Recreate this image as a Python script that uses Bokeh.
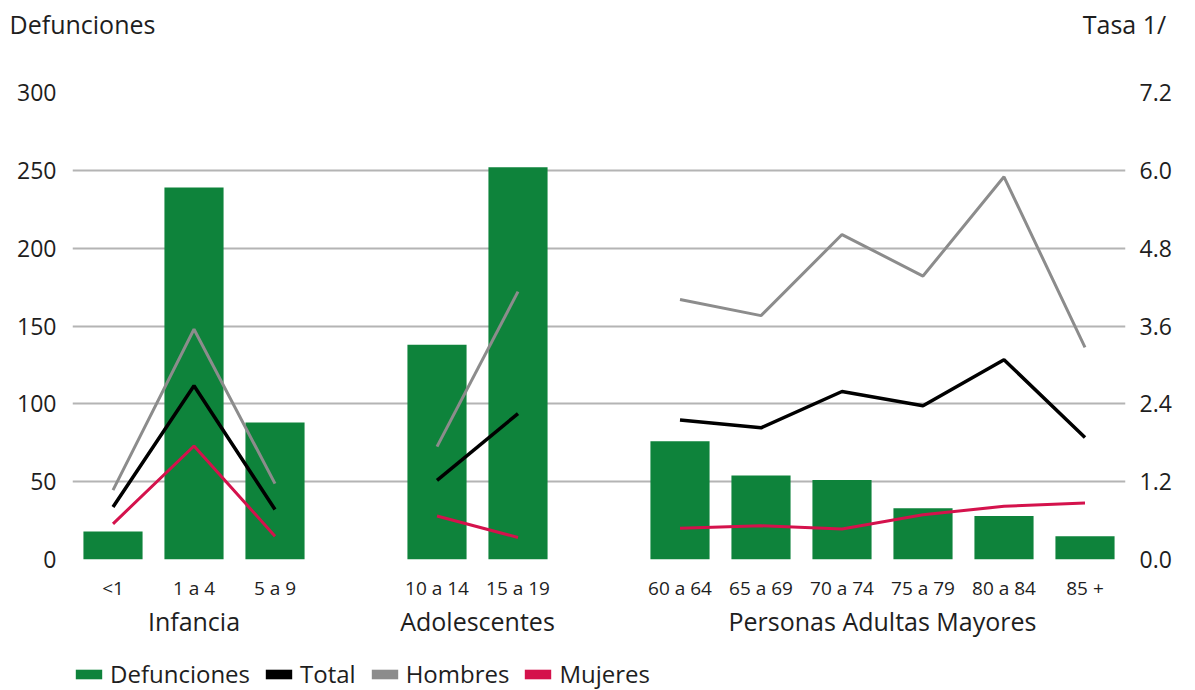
from bokeh.plotting import figure
from bokeh.layouts import column
from bokeh.models import (ColumnDataSource, Range1d, LinearAxis, FixedTicker,
                          CustomJSTickFormatter, Legend, LegendItem,
                          NumeralTickFormatter)
from bokeh.embed import file_html
from bokeh.resources import INLINE

# ---------------- data ----------------
categories = ["<1", "1 a 4", "5 a 9", "10 a 14", "15 a 19",
              "60 a 64", "65 a 69", "70 a 74", "75 a 79", "80 a 84", "85 +"]
groups = ["Infancia", "Adolescentes", "Personas Adultas Mayores"]
group_sizes = [3, 2, 6]
defunciones = [18, 239, 88, 138, 252, 76, 54, 51, 33, 28, 15]
total = [0.81, 2.68, 0.77, 1.22, 2.25, 2.15, 2.03, 2.59, 2.37, 3.08, 1.88]
hombres = [1.07, 3.55, 1.17, 1.74, 4.13, 4.01, 3.76, 5.01, 4.37, 5.90, 3.27]
mujeres = [0.55, 1.75, 0.36, 0.67, 0.34, 0.48, 0.52, 0.47, 0.69, 0.82, 0.87]
left_ticks = [0, 50, 100, 150, 200, 250, 300]
right_ticks = [0.0, 1.2, 2.4, 3.6, 4.8, 6.0, 7.2]
axis_titles = ["Defunciones", "Tasa 1/"]
series_names = ["Defunciones", "Total", "Hombres", "Mujeres"]

GREEN = "#0e833b"
GRAY = "#8c8c8c"
RED = "#d4124c"
BLACK = "#000000"
series_colors = [GREEN, BLACK, GRAY, RED]
FONT = "Open Sans"
TXT = "#1e1e1e"

W = 1195
H_MAIN, H_FOOT = 640, 50
FRAME_L, FRAME_R, FRAME_T, FRAME_H = 72, 70, 92, 471

positions = []
group_centers = []
slot = 0
for gi, n in enumerate(group_sizes):
    start = slot
    for k in range(n):
        positions.append(slot)
        slot += 1
    group_centers.append((start + slot - 1) / 2)
    slot += 1
n_slots = slot - 1
x0, x1 = -0.5, n_slots - 0.5
px_per_unit = (W - FRAME_L - FRAME_R) / (x1 - x0)
# header titles: pixel centres converted to x positions of a top axis
title_px = [82, 1124]
title_ticks = [x0 + (c - FRAME_L) / px_per_unit for c in title_px]

# ---------------- main chart ----------------
p = figure(width=W, height=H_MAIN, output_backend="svg", toolbar_location=None,
           x_range=Range1d(x0, x1), y_range=Range1d(0, 300),
           min_border_left=FRAME_L, min_border_right=FRAME_R,
           min_border_top=FRAME_T,
           min_border_bottom=H_MAIN - FRAME_T - FRAME_H)
p.title.visible = False
p.outline_line_color = None
p.extra_y_ranges = {"rate": Range1d(0, 7.2)}

src = ColumnDataSource(dict(x=positions, top=defunciones))
p.vbar(x="x", top="top", width=0.73, source=src, fill_color=GREEN, line_color=None)


def group_lines(values, color, width):
    idx = 0
    for n in group_sizes:
        xs = positions[idx:idx + n]
        ys = values[idx:idx + n]
        p.line(xs, ys, line_color=color, line_width=width, y_range_name="rate")
        idx += n

group_lines(hombres, GRAY, 3)
group_lines(total, BLACK, 3.5)
group_lines(mujeres, RED, 3)

p.xgrid.visible = False
p.ygrid.grid_line_color = "#b4b4b4"
p.ygrid.grid_line_width = 2
p.yaxis.ticker = FixedTicker(ticks=left_ticks)


def style_axis(ax, size, standoff):
    ax.axis_line_color = None
    ax.major_tick_line_color = None
    ax.minor_tick_line_color = None
    ax.major_tick_out = 0
    ax.major_tick_in = 0
    ax.minor_tick_out = 0
    ax.minor_tick_in = 0
    ax.major_label_text_font = FONT
    ax.major_label_text_font_size = size
    ax.major_label_text_color = TXT
    ax.major_label_standoff = standoff


def label_formatter(pos, labels):
    return CustomJSTickFormatter(args=dict(pos=pos, labels=labels),
        code="let b = -1, d = 1e9; for (let i = 0; i < pos.length; i++) {"
             " const e = Math.abs(pos[i] - tick); if (e < d) { d = e; b = i; } }"
             " return (b >= 0 && d < 1e-6) ? labels[b] : '';")

style_axis(p.yaxis[0], "23px", 16)

right = LinearAxis(y_range_name="rate", ticker=FixedTicker(ticks=right_ticks),
                   formatter=NumeralTickFormatter(format="0.0"))
style_axis(right, "23px", 14)
p.add_layout(right, "right")

xa = p.xaxis[0]
xa.ticker = FixedTicker(ticks=positions)
xa.formatter = label_formatter(positions, categories)
style_axis(xa, "19px", 15)

ga = LinearAxis(ticker=FixedTicker(ticks=group_centers),
                formatter=label_formatter(group_centers, groups))
style_axis(ga, "25px", 0)
p.add_layout(ga, "below")

ta = LinearAxis(ticker=FixedTicker(ticks=title_ticks),
                formatter=label_formatter(title_ticks, axis_titles))
style_axis(ta, "25px", 52)
p.add_layout(ta, "above")

# ---------------- footer legend ----------------
foot = figure(width=W, height=H_FOOT, output_backend="svg", toolbar_location=None,
              x_axis_type=None, y_axis_type=None,
              x_range=Range1d(0, 1), y_range=Range1d(0, 1), min_border=0)
foot.title.visible = False
foot.outline_line_color = None
items = []
for name, col in zip(series_names, series_colors):
    r = foot.vbar(x=[0], top=[0], width=0.0, fill_color=col, line_color=None)
    items.append(LegendItem(label=name, renderers=[r]))
legend = Legend(items=items, orientation="horizontal", location=(0, 0))
legend.border_line_color = None
legend.background_fill_alpha = 0
legend.label_text_font = FONT
legend.label_text_font_size = "24px"
legend.label_text_color = TXT
legend.glyph_width = 33
legend.glyph_height = 12
legend.label_standoff = 5
legend.spacing = 12
legend.padding = 0
legend.margin = 0
foot.add_layout(legend, "center")

layout = column(p, foot, spacing=0)
open("out.html", "w").write(file_html(layout, INLINE))
